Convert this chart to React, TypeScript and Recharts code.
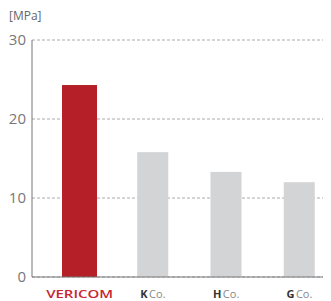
import { BarChart, Bar, XAxis, YAxis, CartesianGrid, Cell } from 'recharts';

const companies = ['VERICOM', 'K', 'H', 'G'];
const strength = [24.3, 15.8, 13.3, 12.0];
const yTicks = [0, 10, 20, 30];

const data = companies.map((name, i) => ({ name, value: strength[i] }));

const RED = '#b51f27';
const GREY = '#d3d4d5';
const FONT = '"Open Sans", "Noto Sans", sans-serif';

function CompanyTick(props: any) {
  const { x, y, payload } = props;
  if (payload.value === 'VERICOM') {
    return (
      <text
        x={x}
        y={y + 8}
        textAnchor="middle"
        fill="#c8262e"
        fontFamily={FONT}
        fontSize={11}
        fontWeight={600}
        textLength={67}
        lengthAdjust="spacingAndGlyphs"
        dominantBaseline="central"
      >
        VERICOM
      </text>
    );
  }
  return (
    <text x={x} y={y + 8} textAnchor="middle" fontFamily={FONT} fontSize={11} dominantBaseline="central">
      <tspan fill="#333" fontWeight={700}>{payload.value}</tspan>
      <tspan fill="#888" dx={1.5}>Co.</tspan>
    </text>
  );
}

function BarShape(props: any) {
  const { x, y, width, height, fill, index } = props;
  const extra = index === 0 ? 2 : 0;
  return <rect x={x - extra} y={y} width={width + extra * 2} height={height} fill={fill} />;
}

export default function App() {
  return (
    <div style={{ position: 'relative', width: 323, height: 293, overflow: 'hidden' }}>
      <span
        style={{
          position: 'absolute',
          left: 1,
          top: 0,
          fontFamily: FONT,
          fontSize: 12,
          color: '#666',
          lineHeight: '16px',
        }}
      >
        [MPa]
      </span>
      <BarChart
        width={328}
        height={293}
        data={data}
        margin={{ top: 32, right: 0, left: 0, bottom: 0 }}
        barCategoryGap="57%"
      >
        <CartesianGrid vertical={false} stroke="#aaa" strokeDasharray="3 2" />
        <XAxis
          dataKey="name"
          height={24}
          axisLine={{ stroke: '#777' }}
          tickLine={false}
          tick={<CompanyTick />}
          padding={{ left: 11, right: 0 }}
          interval={0}
        />
        <YAxis
          width={24}
          domain={[0, 30]}
          ticks={yTicks}
          axisLine={{ stroke: '#777' }}
          tickLine={false}
          tickSize={4}
          tickMargin={2}
          tick={{ fill: '#777', fontSize: 15, fontFamily: FONT }}
        />
        <Bar dataKey="value" barSize={31} shape={<BarShape />} isAnimationActive={false}>
          {data.map((d, i) => (
            <Cell key={d.name} fill={i === 0 ? RED : GREY} />
          ))}
        </Bar>
      </BarChart>
    </div>
  );
}
